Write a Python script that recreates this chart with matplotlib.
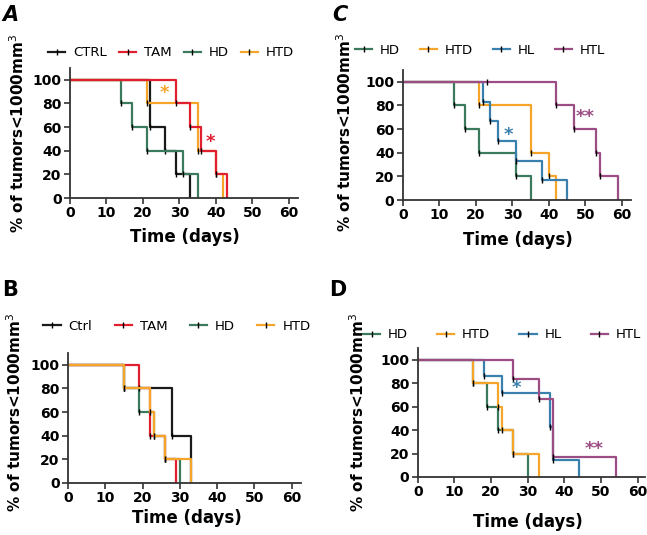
import matplotlib
matplotlib.use("Agg")
import matplotlib.pyplot as plt
from matplotlib.lines import Line2D

W, H = 647, 535

# ---- data (time in days, % of tumors < 1000 mm3 after each drop) ----
# panel A
a_ctrl_t = [22, 26, 29, 33]
a_ctrl_s = [60, 40, 20, 0]
a_tam_t = [29, 33, 36, 40, 43]
a_tam_s = [80, 60, 40, 20, 0]
a_hd_t = [14, 17, 21, 31, 35]
a_hd_s = [80, 60, 40, 20, 0]
a_htd_t = [21, 35, 40, 42]
a_htd_s = [80, 40, 20, 0]

# panel B
b_ctrl_t = [15, 28, 33]
b_ctrl_s = [80, 40, 0]
b_tam_t = [19, 22, 26, 29]
b_tam_s = [80, 40, 20, 0]
b_hd_t = [15, 19, 23, 26, 30]
b_hd_s = [80, 60, 40, 20, 0]
b_htd_t = [15, 22, 23, 26, 33]
b_htd_s = [80, 60, 40, 20, 0]

# panel C
c_hd_t = [14, 17, 21, 31, 35]
c_hd_s = [80, 60, 40, 20, 0]
c_htd_t = [21, 35, 40, 42]
c_htd_s = [80, 40, 20, 0]
c_hl_t = [22, 24, 26, 31, 38, 45]
c_hl_s = [83.3, 66.7, 50, 33.3, 16.7, 0]
c_htl_t = [42, 47, 53, 54, 59]
c_htl_s = [80, 60, 40, 20, 0]

# panel D
d_hd_t = [15, 19, 22, 26, 30]
d_hd_s = [80, 60, 40, 20, 0]
d_htd_t = [15, 22, 23, 26, 33]
d_htd_s = [80, 60, 40, 20, 0]
d_hl_t = [18, 23, 36, 37, 44]
d_hl_s = [85.7, 71.4, 42.9, 14.3, 0]
d_htl_t = [26, 33, 37, 54]
d_htl_s = [83.3, 66.7, 16.7, 0]

black = '#1a1a1a'
red = '#e0202e'
green = '#3b7a5c'
orange = '#f5a52a'
blue = '#3a80ae'
purple = '#9b4d84'


def px_axes(fig, left, top, right, bottom):
    return fig.add_axes([left / W, 1 - bottom / H, (right - left) / W, (bottom - top) / H])


def km(ax, t, s, color):
    x = [0] + t
    y = [100] + s
    ax.step(x, y, where='post', color=color, lw=1.6)
    ax.plot(t[:-1], s[:-1], ls='none', marker='|', color='k', ms=4, mew=1)


def style(ax, xmax):
    ax.set_xlim(0, xmax)
    ax.set_ylim(0, 110)
    ax.set_xticks(range(0, 61, 10))
    ax.set_yticks(range(0, 101, 20))
    for sp in ['top', 'right']:
        ax.spines[sp].set_visible(False)
    for sp in ['left', 'bottom']:
        ax.spines[sp].set_linewidth(1.3)
        ax.spines[sp].set_color('#333333')
    ax.tick_params(length=4, width=1.2, color='#333333', labelsize=10, pad=2)
    for lab in ax.get_xticklabels() + ax.get_yticklabels():
        lab.set_fontweight('bold')


def legend(ax, names, colors, cx, cy, spacing):
    handles = [Line2D([], [], color=c, lw=1.6, marker='|', mec='k', ms=5) for c in colors]
    ax.legend(handles, names, loc='center', bbox_to_anchor=(cx / W, 1 - cy / H),
              bbox_transform=ax.figure.transFigure, ncol=4, frameon=False,
              fontsize=9.5, handlelength=1.3, handletextpad=0.6, columnspacing=spacing,
              borderpad=0, borderaxespad=0)


fig = plt.figure(figsize=(W / 100, H / 100), dpi=100)
ylab = '% of tumors<1000mm$^3$'

# A
ax = px_axes(fig, 70, 68, 298, 198)
km(ax, a_ctrl_t, a_ctrl_s, black)
km(ax, a_hd_t, a_hd_s, green)
km(ax, a_htd_t, a_htd_s, orange)
km(ax, a_tam_t, a_tam_s, red)
style(ax, 62.5)
legend(ax, ['CTRL', 'TAM', 'HD', 'HTD'], [black, red, green, orange], 171, 53, 0.9)
ax.text(26, 89, '*', color=orange, fontsize=13, fontweight='bold', ha='center', va='center')
ax.text(38.5, 47, '*', color=red, fontsize=13, fontweight='bold', ha='center', va='center')

# C
ax = px_axes(fig, 402.7, 70, 631, 200)
km(ax, c_hd_t, c_hd_s, green)
km(ax, c_htd_t, c_htd_s, orange)
km(ax, c_hl_t, c_hl_s, blue)
km(ax, c_htl_t, c_htl_s, purple)
ax.plot([23], [100], ls='none', marker='|', color='k', ms=4, mew=1)
style(ax, 62.5)
legend(ax, ['HD', 'HTD', 'HL', 'HTL'], [green, orange, blue, purple], 480, 50, 1.5)
ax.text(29, 55, '*', color=blue, fontsize=13, fontweight='bold', ha='center', va='center')
ax.text(50, 70, '**', color=purple, fontsize=13, fontweight='bold', ha='center', va='center')

# B
ax = px_axes(fig, 68, 353, 301, 483)
km(ax, b_ctrl_t, b_ctrl_s, black)
km(ax, b_hd_t, b_hd_s, green)
km(ax, b_tam_t, b_tam_s, red)
km(ax, b_htd_t, b_htd_s, orange)
style(ax, 62.5)
legend(ax, ['Ctrl', 'TAM', 'HD', 'HTD'], [black, red, green, orange], 177, 326, 1.7)

# D
ax = px_axes(fig, 417.7, 348, 645, 477)
km(ax, d_hd_t, d_hd_s, green)
km(ax, d_htd_t, d_htd_s, orange)
km(ax, d_hl_t, d_hl_s, blue)
km(ax, d_htl_t, d_htl_s, purple)
style(ax, 62)
legend(ax, ['HD', 'HTD', 'HL', 'HTL'], [green, orange, blue, purple], 502, 335, 2.2)
ax.text(27, 76, '*', color=blue, fontsize=13, fontweight='bold', ha='center', va='center')
ax.text(48, 24, '**', color=purple, fontsize=13, fontweight='bold', ha='center', va='center')

# axis labels and panel letters
for x, y in [(18, 133), (345, 132), (15, 412), (358, 412)]:
    fig.text(x / W, 1 - y / H, ylab, rotation=90, ha='center', va='center',
             fontsize=11, fontweight='bold')
for x, y in [(185, 237), (518, 240), (187, 518), (528, 522)]:
    fig.text(x / W, 1 - y / H, 'Time (days)', ha='center', va='center',
             fontsize=12, fontweight='bold')
for lab, x, y, st in [('A', 10, 15, 'italic'), ('C', 340, 15, 'italic'),
                      ('B', 10, 290, 'normal'), ('D', 338, 290, 'normal')]:
    fig.text(x / W, 1 - y / H, lab, ha='center', va='center', fontsize=15,
             fontweight='bold', style=st)

fig.savefig('out.png', dpi=100)
